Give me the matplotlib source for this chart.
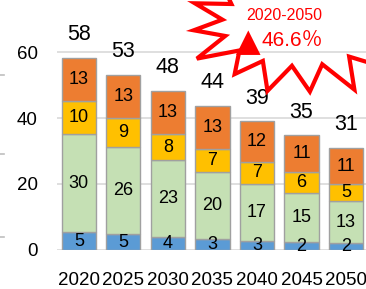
import numpy as np
import matplotlib
matplotlib.use("Agg")
import matplotlib.pyplot as plt
from matplotlib.patches import Polygon
from matplotlib.lines import Line2D

plt.rcParams['font.family'] = ['Liberation Sans', 'DejaVu Sans']

# Data
years = ['2020', '2025', '2030', '2035', '2040', '2045', '2050']
blue = [5.4, 4.8, 4.0, 3.2, 2.8, 2.3, 2.0]
green = [29.8, 26.3, 23.2, 20.3, 17.2, 15.0, 12.8]
yellow = [10.0, 9.0, 8.0, 7.2, 6.8, 6.2, 5.2]
orange = [13.0, 13.0, 13.0, 13.0, 12.2, 11.3, 10.9]
change_label = '2020-2050'
change_sign = '▲'
change_value = '46.6％'

series = [blue, green, yellow, orange]
colors = ['#5B9BD5', '#C5E0B4', '#FFC000', '#ED7D31']

fig = plt.figure(figsize=(3.66, 2.89), dpi=100)
ax = fig.add_axes([57 / 366, 39 / 289, 309 / 366, 250 / 289])

x = np.arange(len(years))
bottom = np.zeros(len(years))
for vals, c in zip(series, colors):
    ax.bar(x, vals, 0.77, bottom=bottom, color=c, edgecolor='#a0a0a0',
           linewidth=1, zorder=3)
    for xi, b, v in zip(x, bottom, vals):
        ax.text(xi, b + v / 2, f'{v:.0f}', ha='center', va='center',
                fontsize=13, zorder=4)
    bottom += np.array(vals)

for xi, t in zip(x, bottom):
    ax.text(xi, t + 7, f'{t:.0f}', ha='center', va='center', fontsize=15.5)

ax.set_xlim(-0.49, 6.45)
ax.set_ylim(0, 250 / 3.3)
ax.set_yticks([0, 20, 40, 60])
ax.set_xticks(x)
ax.set_xticklabels(years)
ax.tick_params(length=0, labelsize=13.5)
ax.tick_params(axis='x', pad=16)
ax.tick_params(axis='y', pad=14)
ax.grid(axis='y', color='#d9d9d9', linewidth=1.2, zorder=0)
for s in ax.spines.values():
    s.set_visible(False)

# small marks at the left edge
for yp in [75, 154, 237]:
    fig.add_artist(Line2D([0, 4 / 366], [1 - yp / 289] * 2, color='#bfbfbf',
                          linewidth=1.2, transform=fig.transFigure))

# starburst (slightly irregular spikes)
cx, cy = 300, 24
n = 16
k = np.arange(2 * n)
ang = np.linspace(0, 2 * np.pi, 2 * n, endpoint=False) + 0.3
jitter = np.tile([1.0, 1.0, 0.93, 1.0, 1.06, 1.0, 0.97, 1.0], 4)
rx = np.where(k % 2 == 0, 110, 78) * jitter
ry = np.where(k % 2 == 0, 70, 42) * jitter
px = cx + rx * np.cos(ang)
py = cy + ry * np.sin(ang)
pts = np.column_stack([px / 366, 1 - py / 289])
star = Polygon(pts, closed=True, facecolor='none', edgecolor='#FF0000',
               linewidth=3, joinstyle='miter', transform=fig.transFigure,
               zorder=5)
fig.add_artist(star)
fig.text(284 / 366, 1 - 15 / 289, change_label, ha='center', va='center',
         color='#FF0000', fontsize=11.5, zorder=6)
fig.text(248 / 366, 1 - 43 / 289, change_sign, ha='center', va='center',
         color='#FF0000', fontsize=23, zorder=6, family='DejaVu Sans')
fig.text(261 / 366, 1 - 40 / 289, change_value, ha='left', va='center',
         color='#FF0000', fontsize=15, zorder=6,
         family=['Liberation Sans', 'Noto Sans CJK JP'])

fig.savefig('out.png', dpi=100)
